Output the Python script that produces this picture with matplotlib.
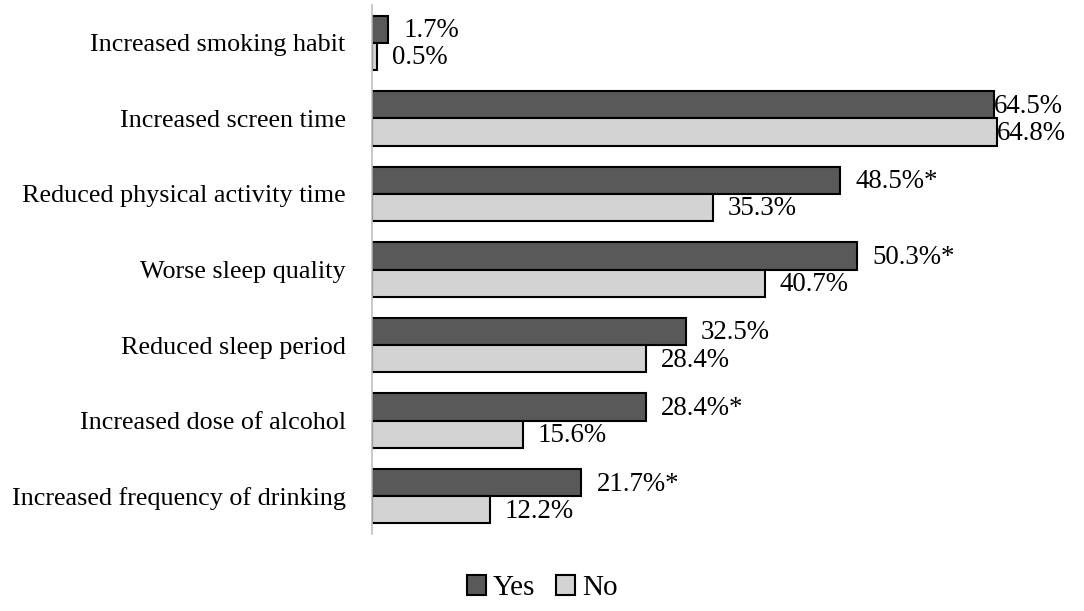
import matplotlib
matplotlib.use("Agg")
import matplotlib.pyplot as plt
import numpy as np

categories = [
    "Increased smoking habit",
    "Increased screen time",
    "Reduced physical activity time",
    "Worse sleep quality",
    "Reduced sleep period",
    "Increased dose of alcohol",
    "Increased frequency of drinking",
]
yes_values = [1.7, 64.5, 48.5, 50.3, 32.5, 28.4, 21.7]
no_values = [0.5, 64.8, 35.3, 40.7, 28.4, 15.6, 12.2]
yes_labels = ["1.7%", "64.5%", "48.5%*", "50.3%*", "32.5%", "28.4%*", "21.7%*"]
no_labels = ["0.5%", "64.8%", "35.3%", "40.7%", "28.4%", "15.6%", "12.2%"]
series_names = ["Yes", "No"]

plt.rcParams["font.family"] = ["Liberation Serif", "DejaVu Serif"]

fig = plt.figure(figsize=(10.84, 6.11), dpi=100)
ax = fig.add_axes([0.3432, 0.126, 0.6568, 0.8658])

y = np.arange(len(categories))
h = 0.36
yes_color = "#595959"
no_color = "#d3d3d3"
b1 = ax.barh(y - h / 2, yes_values, height=h, color=yes_color, edgecolor="black",
             linewidth=1.5, label=series_names[0])
b2 = ax.barh(y + h / 2, no_values, height=h, color=no_color, edgecolor="black",
             linewidth=1.5, label=series_names[1])

ax.set_xlim(0, 73.8)
ax.set_ylim(len(categories) - 0.5, -0.5)
ax.set_yticks(y)
ax.set_yticklabels(categories, fontsize=18.8)
ax.tick_params(axis="y", length=0, pad=19)
ax.set_xticks([])
for s in ["top", "right", "bottom"]:
    ax.spines[s].set_visible(False)
ax.spines["left"].set_color("#c0c0c0")
ax.spines["left"].set_linewidth(1.2)

for vals, labs, dy in [(yes_values, yes_labels, -h / 2), (no_values, no_labels, h / 2)]:
    for i, (v, lab) in enumerate(zip(vals, labs)):
        off = 0 if v > 60 else 11
        ax.annotate(lab, xy=(v, i + dy), xytext=(off, -1), textcoords="offset points",
                    ha="left", va="center", fontsize=19.4)

fig.legend(handles=[b1, b2], labels=series_names, loc="center",
           bbox_to_anchor=(0.5, 0.0376), ncol=2, frameon=False, fontsize=21,
           handlelength=0.65, handleheight=0.65, handletextpad=0.25, columnspacing=0.7)

fig.savefig("out.png", dpi=100, facecolor="white")
